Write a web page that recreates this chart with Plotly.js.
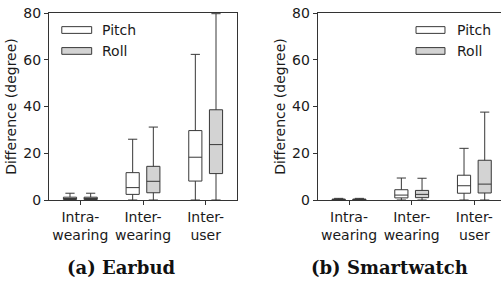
<!DOCTYPE html>
<html>
<head>
<meta charset="utf-8">
<script src="https://cdn.plot.ly/plotly-3.0.1.min.js"></script>
<style>
html,body{margin:0;padding:0;overflow:hidden;background:#fff;}
#chart{width:512px;height:282px;}
</style>
</head>
<body>
<div id="chart"></div>
<script>
// ---- data ----
const categories = ['Intra-<br>wearing', 'Inter-<br>wearing', 'Inter-<br>user'];
const seriesNames = ['Pitch', 'Roll'];
const panelTitles = ['(a) Earbud', '(b) Smartwatch'];
const yTickVals = [0, 20, 40, 60, 80];

// Earbud
const earbudPitchQ1     = [0.2, 2.4, 8.1];
const earbudPitchMedian = [0.5, 5.3, 18.3];
const earbudPitchQ3     = [1.2, 11.7, 29.7];
const earbudPitchLow    = [0, 0, 0];
const earbudPitchHigh   = [2.9, 26.0, 62.3];

const earbudRollQ1      = [0.2, 3.1, 11.3];
const earbudRollMedian  = [0.5, 8.0, 23.7];
const earbudRollQ3      = [1.2, 14.4, 38.6];
const earbudRollLow     = [0, 0, 0];
const earbudRollHigh    = [2.9, 31.2, 79.7];

// Smartwatch
const watchPitchQ1      = [0.05, 0.9, 2.9];
const watchPitchMedian  = [0.2, 2.1, 6.1];
const watchPitchQ3      = [0.4, 4.4, 10.6];
const watchPitchLow     = [0, 0, 0];
const watchPitchHigh    = [0.7, 9.4, 22.1];

const watchRollQ1       = [0.05, 1.0, 3.0];
const watchRollMedian   = [0.2, 2.4, 6.8];
const watchRollQ3       = [0.4, 4.1, 17.0];
const watchRollLow      = [0, 0, 0];
const watchRollHigh     = [0.7, 9.3, 37.6];

// ---- styles ----
const W = 512, H = 282;
const fills = ['#ffffff', '#d3d3d3'];
const lineCol = '#383838';
const font = {family: 'DejaVu Sans', size: 14, color: '#1a1a1a'};

function box(name, idx, q1, med, q3, lo, hi, ax) {
  return {
    type: 'box', name: name, x: categories,
    q1: q1, median: med, q3: q3, lowerfence: lo, upperfence: hi,
    fillcolor: fills[idx], line: {color: lineCol, width: 1},
    whiskerwidth: 0.7, boxpoints: false, showlegend: false,
    alignmentgroup: 'panel' + ax, offsetgroup: 'series' + idx,
    xaxis: ax === 1 ? 'x' : 'x2', yaxis: ax === 1 ? 'y' : 'y2',
    hoverinfo: 'skip'
  };
}

const data = [
  box(seriesNames[0], 0, earbudPitchQ1, earbudPitchMedian, earbudPitchQ3, earbudPitchLow, earbudPitchHigh, 1),
  box(seriesNames[1], 1, earbudRollQ1, earbudRollMedian, earbudRollQ3, earbudRollLow, earbudRollHigh, 1),
  box(seriesNames[0], 0, watchPitchQ1, watchPitchMedian, watchPitchQ3, watchPitchLow, watchPitchHigh, 2),
  box(seriesNames[1], 1, watchRollQ1, watchRollMedian, watchRollQ3, watchRollLow, watchRollHigh, 2)
];

function xax(d0, d1, anchor) {
  return {
    domain: [d0 / W, d1 / W], anchor: anchor,
    type: 'category', categoryarray: categories, range: [-0.5, 2.5],
    showline: true, linecolor: '#333', linewidth: 1, mirror: true,
    ticks: 'outside', ticklen: 4, tickcolor: '#333', tickwidth: 1,
    showgrid: false, zeroline: false, tickfont: font, fixedrange: true
  };
}
function yax(anchor) {
  return {
    domain: [0, 1], anchor: anchor, range: [0, 80],
    tickvals: yTickVals, ticktext: yTickVals.map(String),
    showline: true, linecolor: '#333', linewidth: 1, mirror: true,
    ticks: 'outside', ticklen: 4, tickcolor: '#333', tickwidth: 1,
    showgrid: false, zeroline: false, tickfont: font,
    title: {text: 'Difference (degree)', font: font, standoff: 3}
  };
}

// legend drawn as shapes + annotations (per panel)
const shapes = [], annotations = [];
const legendPos = [
  {xr: 'x domain', yr: 'y domain', x0: 0.068, x1: 0.227, tx: 0.27},
  {xr: 'x2 domain', yr: 'y2 domain', x0: 0.523, x1: 0.677, tx: 0.73}
];
const legendY = [0.909, 0.797];
legendPos.forEach(p => {
  seriesNames.forEach((nm, i) => {
    shapes.push({type: 'rect', xref: p.xr, yref: p.yr, x0: p.x0, x1: p.x1,
      y0: legendY[i] - 0.018, y1: legendY[i] + 0.018,
      fillcolor: fills[i], line: {color: lineCol, width: 1}});
    annotations.push({xref: p.xr, yref: p.yr, x: p.tx, y: legendY[i], text: nm,
      showarrow: false, xanchor: 'left', yanchor: 'middle', font: font});
  });
});
const capFont = {family: 'DejaVu Serif', size: 18, color: '#111'};
annotations.push({xref: 'paper', yref: 'paper', x: 121 / W, y: -67 / 187, text: '<b>' + panelTitles[0] + '</b>',
  showarrow: false, xanchor: 'center', yanchor: 'middle', font: capFont});
annotations.push({xref: 'paper', yref: 'paper', x: 389 / W, y: -67 / 187, text: '<b>' + panelTitles[1] + '</b>',
  showarrow: false, xanchor: 'center', yanchor: 'middle', font: capFont});

const layout = {
  width: W, height: H,
  margin: {l: 0, r: 0, t: 13, b: 82, pad: 0},
  paper_bgcolor: '#fff', plot_bgcolor: '#fff',
  boxmode: 'group', boxgap: 0.34, boxgroupgap: 0.364,
  showlegend: false, font: font,
  xaxis: xax(49, 237, 'y'), yaxis: yax('x'),
  xaxis2: xax(317.7, 505.7, 'y2'), yaxis2: yax('x2'),
  shapes: shapes, annotations: annotations
};

Plotly.newPlot('chart', data, layout, {displayModeBar: false, staticPlot: true});
</script>
</body>
</html>
